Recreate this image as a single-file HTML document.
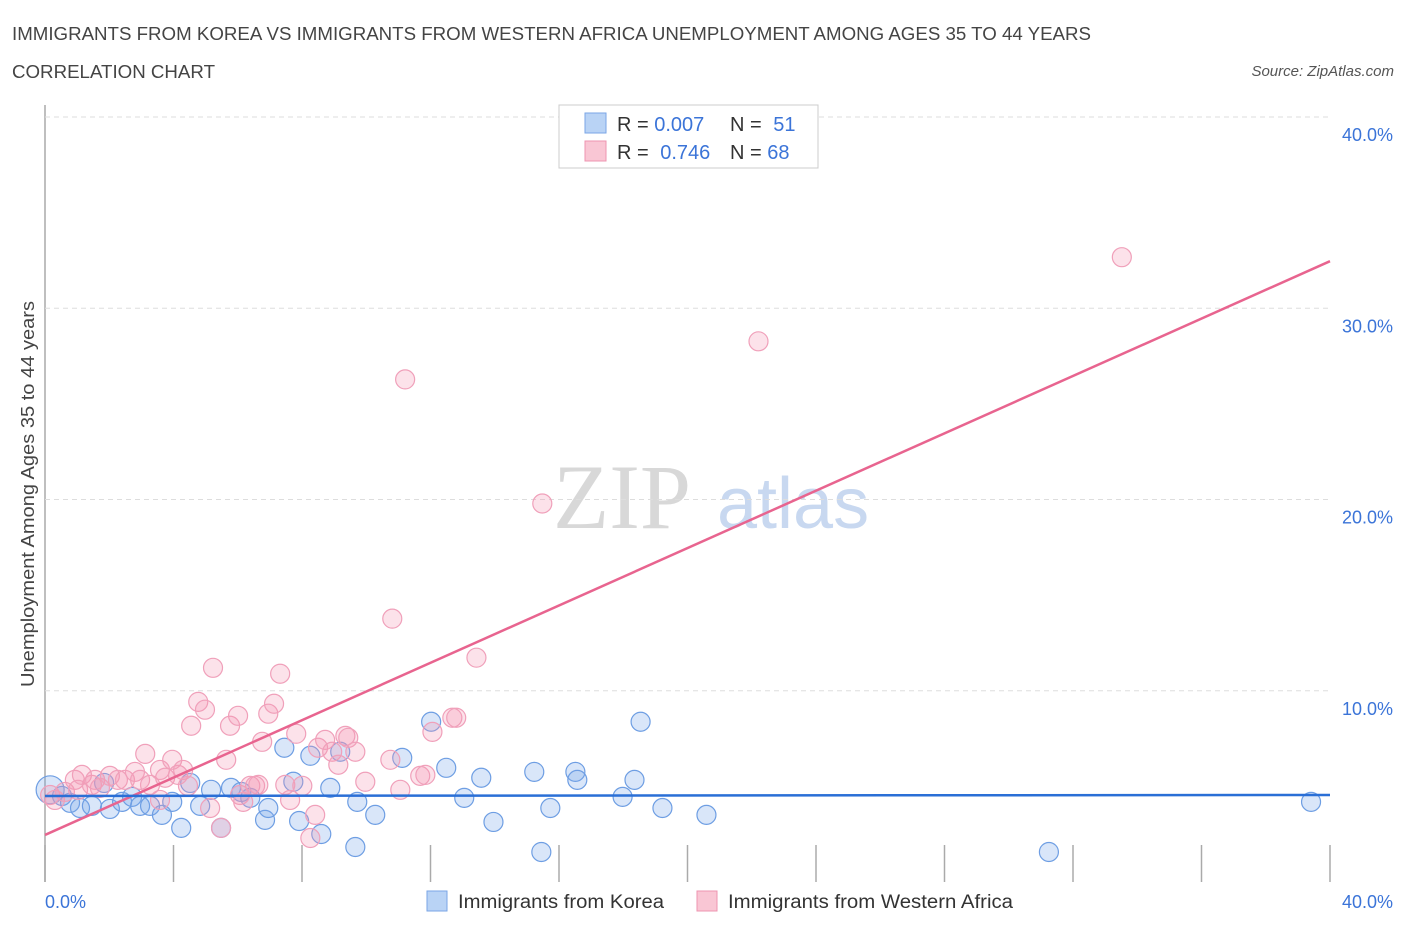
<!DOCTYPE html>
<html><head><meta charset="utf-8"><style>
body{margin:0;background:#fff;font-family:"Liberation Sans",sans-serif;}
svg text{font-family:"Liberation Sans",sans-serif;}
</style></head><body>
<svg id="chart" width="1406" height="930" viewBox="0 0 1406 930">
<text x="12" y="40" font-size="18" fill="#444" textLength="1079" lengthAdjust="spacingAndGlyphs">IMMIGRANTS FROM KOREA VS IMMIGRANTS FROM WESTERN AFRICA UNEMPLOYMENT AMONG AGES 35 TO 44 YEARS</text>
<text x="12" y="78" font-size="18" fill="#444" textLength="203" lengthAdjust="spacingAndGlyphs">CORRELATION CHART</text>
<text x="1394" y="76" font-size="15" fill="#555" font-style="italic" text-anchor="end">Source: ZipAtlas.com</text>
<g>
<text x="553" y="528" font-size="92" fill="#d8d8d8" font-family="Liberation Serif" style="font-family:'Liberation Serif',serif">ZIP</text>
<text x="717" y="528" font-size="72" fill="#c8d8f0">atlas</text>
</g>
<g id="grid"></g>
<g id="pts"></g>
<g id="lines"></g>
<text x="34" y="494" font-size="18" fill="#444" text-anchor="middle" textLength="386" lengthAdjust="spacingAndGlyphs" transform="rotate(-90 34 494)">Unemployment Among Ages 35 to 44 years</text>
<text x="45" y="908" font-size="18" fill="#3b74d8">0.0%</text>
<text x="1393" y="908" font-size="18" fill="#3b74d8" text-anchor="end">40.0%</text>
<g>
<rect x="559" y="105" width="259" height="63" fill="#fff" stroke="#ccc"/>
<rect x="585" y="113" width="21" height="20" fill="#b9d3f5" stroke="#7aa6e6"/>
<rect x="585" y="141" width="21" height="20" fill="#f9c6d4" stroke="#ee94b0"/>
<text x="617" y="131" font-size="20" fill="#333">R = <tspan fill="#3b74d8">0.007</tspan></text>
<text x="730" y="131" font-size="20" fill="#333">N = <tspan fill="#3b74d8" dx="6">51</tspan></text>
<text x="617" y="159" font-size="20" fill="#333">R = <tspan fill="#3b74d8" dx="6">0.746</tspan></text>
<text x="730" y="159" font-size="20" fill="#333">N = <tspan fill="#3b74d8">68</tspan></text>
</g>
<g>
<rect x="427" y="891" width="20" height="20" fill="#b9d3f5" stroke="#7aa6e6"/>
<text x="458" y="908" font-size="19" fill="#333" textLength="206" lengthAdjust="spacingAndGlyphs">Immigrants from Korea</text>
<rect x="697" y="891" width="20" height="20" fill="#f9c6d4" stroke="#ee94b0"/>
<text x="728" y="908" font-size="19" fill="#333" textLength="285" lengthAdjust="spacingAndGlyphs">Immigrants from Western Africa</text>
</g>
</svg>
<script>
const yTicks=[10,20,30,40];
const yTickLabels=["10.0%","20.0%","30.0%","40.0%"];
const xTickVals=[4,8,12,16,20,24,28,32,36,40];
const koreaX=[0.16,0.53,0.78,1.09,1.46,1.84,2.02,2.40,2.71,2.96,3.27,3.64,3.96,4.24,4.52,4.83,5.17,5.48,5.79,6.11,6.39,6.85,6.95,7.45,7.73,7.91,8.26,8.60,8.88,9.19,9.66,9.72,10.28,11.12,12.02,12.49,13.05,13.58,13.96,15.23,15.45,15.73,16.51,16.57,17.98,18.35,18.54,19.22,20.59,31.25,39.41];
const koreaY=[4.82,4.50,4.14,3.87,3.98,5.18,3.82,4.19,4.45,3.98,3.98,3.51,4.19,2.83,5.18,3.98,4.82,2.83,4.92,4.71,4.40,3.25,3.87,7.02,5.24,3.19,6.60,2.51,4.92,6.81,1.83,4.19,3.51,6.49,8.38,5.97,4.40,5.45,3.14,5.76,1.57,3.87,5.76,5.34,4.45,5.34,8.38,3.87,3.51,1.57,4.19];
const waX=[0.16,0.31,0.62,0.93,1.03,1.15,1.46,1.56,1.71,2.02,2.27,2.49,2.80,2.96,3.12,3.27,3.58,3.58,3.74,3.96,4.14,4.30,4.45,4.55,4.77,4.98,5.14,5.23,5.48,5.64,5.76,6.01,6.07,6.17,6.39,6.54,6.64,6.76,6.95,7.13,7.32,7.48,7.63,7.82,8.01,8.26,8.41,8.50,8.72,8.94,9.13,9.35,9.44,9.66,9.97,10.75,10.81,11.06,11.21,11.68,11.84,12.06,12.68,12.80,13.43,15.48,22.21,33.52];
const waY=[4.55,4.29,4.71,5.34,4.82,5.60,5.08,5.34,4.92,5.55,5.34,5.34,5.76,5.34,6.70,5.08,5.86,4.29,5.45,6.39,5.60,5.86,5.03,8.17,9.42,9.01,3.87,11.20,2.83,6.39,8.17,8.69,4.55,4.19,5.03,5.03,5.08,7.33,8.80,9.32,10.89,5.08,4.29,7.75,5.03,2.30,3.51,7.02,7.43,6.81,6.13,7.64,7.54,6.81,5.24,6.39,13.77,4.82,26.28,5.55,5.60,7.85,8.59,8.59,11.73,19.79,28.27,32.67];
const koreaTrend=[4.50,4.55];
const waTrend=[2.46,32.46];

const NS="http://www.w3.org/2000/svg";
const X0=45,X1=1330,Y0=882,Y40=117;
const sx=v=>X0+(X1-X0)*v/40;
const sy=v=>Y0-(Y0-Y40)*v/40;
function mk(tag,attrs,parent){const e=document.createElementNS(NS,tag);for(const k in attrs)e.setAttribute(k,attrs[k]);parent.appendChild(e);return e;}
const grid=document.getElementById('grid');
const ax=mk('line',{x1:X0,x2:X0,y1:105,y2:Y0,stroke:'#aaa','stroke-width':1.5},grid);


yTicks.forEach((t,i)=>{
 const g=mk('line',{x1:X0,x2:X1,y1:sy(t),y2:sy(t),stroke:'#ddd','stroke-dasharray':'5,4'},grid);
 
 
 const tx=mk('text',{x:1393,y:sy(t)+24,'font-size':18,fill:'#3b74d8','text-anchor':'end'},grid);
 tx.textContent=yTickLabels[i];
 
 
});
mk('line',{x1:X0,x2:X0,y1:845,y2:Y0,stroke:'#aaa','stroke-width':1.5},grid);
xTickVals.forEach(t=>{
 const l=mk('line',{x1:sx(t),x2:sx(t),y1:845,y2:Y0,stroke:'#aaa','stroke-width':1.5},grid);
 
 
});
const pts=document.getElementById('pts');
koreaX.forEach((x,i)=>{
 const c=mk('circle',{cx:sx(x),cy:sy(koreaY[i]),r:i===0?14:9.5,fill:'rgba(120,165,235,0.28)',stroke:'#6e9ee3','stroke-width':1.2},pts);
 
 
});
waX.forEach((x,i)=>{
 const c=mk('circle',{cx:sx(x),cy:sy(waY[i]),r:9.5,fill:'rgba(245,150,180,0.28)',stroke:'#f0a0ba','stroke-width':1.2},pts);
 
 
});
const lines=document.getElementById('lines');
const l1=mk('line',{x1:sx(0),x2:sx(40),y1:sy(waTrend[0]),y2:sy(waTrend[1]),stroke:'#e8648f','stroke-width':2.5},lines);


const l2=mk('line',{x1:sx(0),x2:sx(40),y1:sy(koreaTrend[0]),y2:sy(koreaTrend[1]),stroke:'#2a6fd6','stroke-width':2.5},lines);


</script>
</body></html>
